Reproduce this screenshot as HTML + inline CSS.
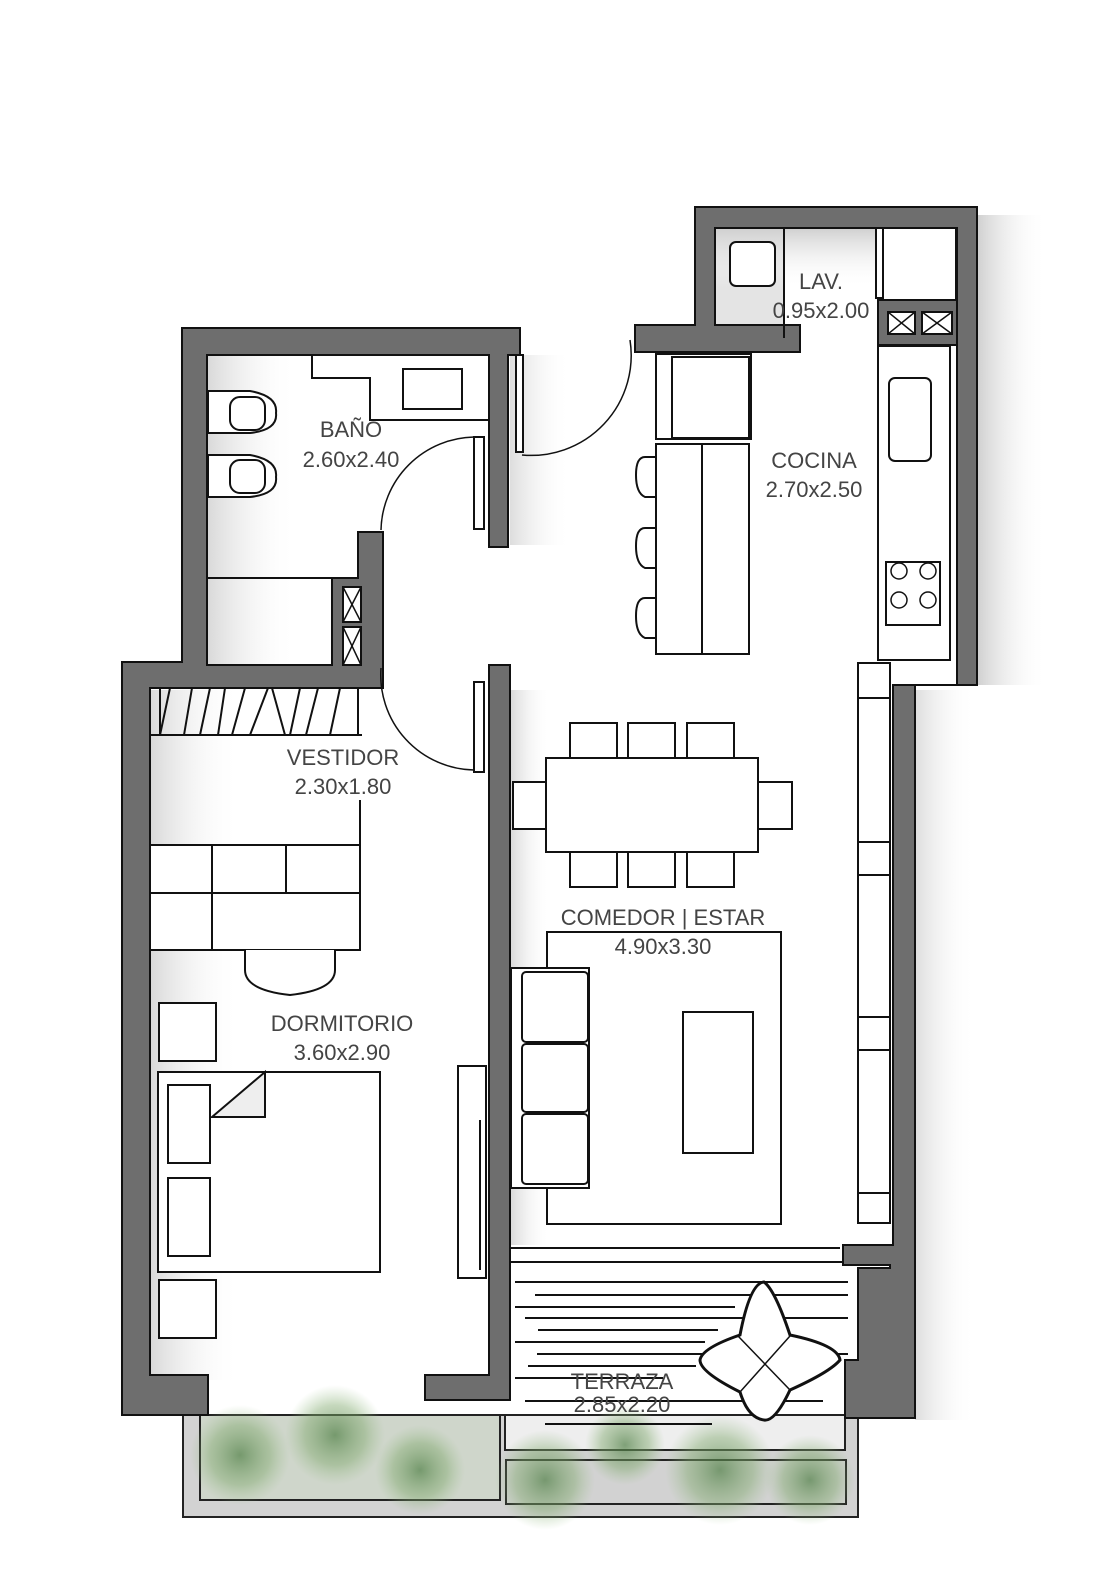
<!DOCTYPE html>
<html><head><meta charset="utf-8"><style>
html,body{margin:0;padding:0;background:#fff}
svg{display:block}
text{font-family:"Liberation Sans",sans-serif;fill:#444;font-size:22px;text-anchor:middle}
</style></head><body>
<svg width="1096" height="1578" viewBox="0 0 1096 1578" xmlns="http://www.w3.org/2000/svg">
<defs>
<linearGradient id="gl" x1="0" x2="1"><stop offset="0" stop-color="#d8d8d8"/><stop offset="1" stop-color="#fff" stop-opacity="0"/></linearGradient>
<linearGradient id="gt" x1="0" y1="0" x2="0" y2="1"><stop offset="0" stop-color="#cfcfcf"/><stop offset="1" stop-color="#fff" stop-opacity="0"/></linearGradient>
<linearGradient id="gs" x1="0" x2="1"><stop offset="0" stop-color="#bbb"/><stop offset="1" stop-color="#fff" stop-opacity="0"/></linearGradient>
<radialGradient id="pl"><stop offset="0" stop-color="#4f7f45" stop-opacity=".7"/><stop offset=".6" stop-color="#7fa86c" stop-opacity=".45"/><stop offset="1" stop-color="#9bc08a" stop-opacity="0"/></radialGradient>
</defs>
<rect x="977" y="215" width="70" height="470" fill="url(#gs)" opacity=".7"/>
<rect x="915" y="690" width="60" height="730" fill="url(#gs)" opacity=".5"/>
<rect x="510" y="355" width="60" height="190" fill="url(#gs)" opacity=".5"/>
<rect x="207" y="355" width="90" height="310" fill="url(#gl)"/>
<rect x="150" y="690" width="90" height="690" fill="url(#gl)"/>
<rect x="715" y="228" width="70" height="110" fill="#e4e4e4"/>
<rect x="715" y="228" width="242" height="60" fill="url(#gt)"/>
<rect x="510" y="690" width="40" height="555" fill="url(#gl)"/>
<!-- planters -->
<rect x="183" y="1415" width="675" height="102" fill="#d2d2d2" stroke="#222" stroke-width="2"/>
<rect x="200" y="1415" width="300" height="85" fill="#cfd6cb" stroke="#222" stroke-width="2"/>
<rect x="506" y="1460" width="340" height="44" fill="none" stroke="#222" stroke-width="2"/>
<rect x="505" y="1415" width="340" height="35" fill="#eee" stroke="#222" stroke-width="2"/>
<g fill="url(#pl)">
<circle cx="240" cy="1455" r="50"/><circle cx="335" cy="1435" r="50"/><circle cx="420" cy="1470" r="45"/><circle cx="545" cy="1480" r="50"/><circle cx="625" cy="1445" r="40"/><circle cx="720" cy="1470" r="55"/><circle cx="810" cy="1480" r="45"/>
</g>
<g stroke="#111" stroke-width="2">
<line x1="515" y1="1282" x2="848" y2="1282"/><line x1="535" y1="1295" x2="848" y2="1295"/><line x1="515" y1="1307" x2="735" y2="1307"/><line x1="525" y1="1318" x2="848" y2="1318"/><line x1="538" y1="1330" x2="718" y2="1330"/><line x1="515" y1="1342" x2="705" y2="1342"/><line x1="537" y1="1354" x2="848" y2="1354"/><line x1="528" y1="1366" x2="696" y2="1366"/><line x1="515" y1="1378" x2="663" y2="1378"/><line x1="525" y1="1401" x2="823" y2="1401"/><line x1="545" y1="1424" x2="712" y2="1424"/>
<line x1="510" y1="1262" x2="850" y2="1262"/><line x1="510" y1="1248" x2="840" y2="1248"/>
</g>
<g fill="#6e6e6e" stroke="#111" stroke-width="2">
<path d="M182 328 H520 V355 H508 V547 H489 V355 H207 V665 H332 V578 H358 V532 H383 V688 H150 V1375 H208 V1415 H122 V662 H182 Z"/>
<path d="M489 665 H510 V1400 H425 V1375 H489 Z"/>
<path d="M695 207 H977 V685 H915 V1418 H845 V1360 H858 V1268 H890 V1265 H843 V1245 H893 V685 H957 V228 H715 V325 H800 V352 H635 V325 H695 Z"/>
<rect x="878" y="300" width="79" height="45"/>
</g>
<g fill="#fff" stroke="#111" stroke-width="2">
<path d="M312 355 H489 V420 H370 V378 H312 Z"/>
<rect x="403" y="369" width="59" height="40"/>
<path d="M208 391 H250 Q278 396 276 413 Q278 430 250 433 H208 Z"/>
<rect x="230" y="397" width="35" height="33" rx="10"/>
<path d="M208 455 H250 Q278 460 276 477 Q278 494 250 497 H208 Z"/>
<rect x="230" y="460" width="35" height="33" rx="10"/>
<line x1="207" y1="578" x2="332" y2="578"/>
<rect x="343" y="587" width="18" height="35"/><rect x="343" y="627" width="18" height="38"/>
<rect x="474" y="437" width="10" height="92"/>
<rect x="516" y="355" width="7" height="97"/>
<rect x="474" y="682" width="10" height="90"/>
</g>
<g stroke="#111" stroke-width="1.5" fill="none">
<path d="M474 437 A95 95 0 0 0 381 530"/>
<path d="M522 455 A100 100 0 0 0 630 340"/>
<path d="M381 668 A95 95 0 0 0 474 770"/>
<line x1="343" y1="587" x2="361" y2="622"/><line x1="361" y1="587" x2="343" y2="622"/>
<line x1="343" y1="627" x2="361" y2="665"/><line x1="361" y1="627" x2="343" y2="665"/>
</g>
<g stroke="#111" stroke-width="2" fill="none">
<line x1="150" y1="688" x2="362" y2="688"/><line x1="150" y1="735" x2="362" y2="735"/>
<line x1="160" y1="688" x2="160" y2="735"/><line x1="160" y1="735" x2="170" y2="688"/><line x1="192" y1="688" x2="184" y2="735"/><line x1="210" y1="688" x2="200" y2="735"/><line x1="225" y1="688" x2="218" y2="735"/><line x1="245" y1="688" x2="232" y2="735"/><line x1="268" y1="688" x2="250" y2="735"/><line x1="272" y1="688" x2="285" y2="735"/><line x1="300" y1="688" x2="290" y2="735"/><line x1="318" y1="688" x2="306" y2="735"/><line x1="340" y1="688" x2="330" y2="735"/><line x1="358" y1="688" x2="358" y2="735"/>
<line x1="360" y1="800" x2="360" y2="950"/>
</g>
<g fill="#fff" stroke="#111" stroke-width="2">
<rect x="150" y="845" width="210" height="105"/>
<line x1="150" y1="893" x2="360" y2="893"/><line x1="212" y1="845" x2="212" y2="950"/><line x1="286" y1="845" x2="286" y2="893"/>
<path d="M245 950 V970 Q245 990 290 995 Q335 990 335 970 V950"/>
<rect x="159" y="1003" width="57" height="58"/>
<rect x="159" y="1280" width="57" height="58"/>
<rect x="158" y="1072" width="222" height="200"/>
<rect x="168" y="1085" width="42" height="78"/><rect x="168" y="1178" width="42" height="78"/>
<path d="M212 1117 L265 1072 V1117 Z" fill="#eee"/>
<rect x="458" y="1066" width="28" height="212"/>
<line x1="480" y1="1120" x2="480" y2="1270"/>
</g>
<g fill="#fff" stroke="#111" stroke-width="2">
<line x1="784" y1="228" x2="784" y2="338"/>
<rect x="730" y="242" width="45" height="44" rx="6"/>
<rect x="883" y="228" width="73" height="72"/><rect x="876" y="228" width="7" height="70"/>
<rect x="888" y="312" width="27" height="22"/><rect x="922" y="312" width="30" height="22"/>
<rect x="878" y="346" width="72" height="314"/>
<rect x="889" y="378" width="42" height="83" rx="6"/>
<rect x="886" y="562" width="54" height="63"/>
<rect x="656" y="354" width="95" height="85"/>
<rect x="672" y="357" width="77" height="81"/>
<rect x="656" y="444" width="93" height="210"/>
<line x1="702" y1="444" x2="702" y2="654"/>
<path d="M655 457 H645 Q636 457 636 475 Q636 493 645 497 H655"/>
<path d="M655 528 H645 Q636 528 636 546 Q636 564 645 568 H655"/>
<path d="M655 598 H645 Q636 598 636 616 Q636 634 645 638 H655"/>
</g>
<g stroke="#111" stroke-width="1.5" fill="none">
<line x1="888" y1="312" x2="915" y2="334"/><line x1="915" y1="312" x2="888" y2="334"/>
<line x1="922" y1="312" x2="952" y2="334"/><line x1="952" y1="312" x2="922" y2="334"/>
<circle cx="899" cy="571" r="8"/><circle cx="928" cy="571" r="8"/><circle cx="899" cy="600" r="8"/><circle cx="928" cy="600" r="8"/>
</g>
<g fill="#fff" stroke="#111" stroke-width="2">
<rect x="858" y="663" width="32" height="560"/>
<line x1="858" y1="698" x2="890" y2="698"/><line x1="858" y1="842" x2="890" y2="842"/><line x1="858" y1="875" x2="890" y2="875"/><line x1="858" y1="1017" x2="890" y2="1017"/><line x1="858" y1="1050" x2="890" y2="1050"/><line x1="858" y1="1193" x2="890" y2="1193"/>
<rect x="570" y="723" width="47" height="35"/><rect x="628" y="723" width="47" height="35"/><rect x="687" y="723" width="47" height="35"/>
<rect x="570" y="852" width="47" height="35"/><rect x="628" y="852" width="47" height="35"/><rect x="687" y="852" width="47" height="35"/>
<rect x="513" y="782" width="35" height="47"/><rect x="757" y="782" width="35" height="47"/>
<rect x="546" y="758" width="212" height="94"/>
<rect x="547" y="932" width="234" height="292"/>
<rect x="511" y="968" width="78" height="220"/>
<rect x="522" y="972" width="66" height="70" rx="4"/><rect x="522" y="1044" width="66" height="68" rx="4"/><rect x="522" y="1114" width="66" height="70" rx="4"/>
<rect x="683" y="1012" width="70" height="141"/>
<path d="M764 1282 Q775 1290 790 1335 Q838 1345 840 1360 Q830 1372 790 1390 Q775 1422 764 1420 Q748 1418 740 1392 Q700 1372 700 1360 Q702 1348 740 1335 Q750 1283 764 1282 Z" stroke-width="3"/>
<line x1="738" y1="1336" x2="790" y2="1390" stroke-width="1.5"/><line x1="790" y1="1336" x2="740" y2="1392" stroke-width="1.5"/>
</g>
<text x="351" y="437">BAÑO</text><text x="351" y="467">2.60x2.40</text>
<text x="821" y="289">LAV.</text><text x="821" y="318">0.95x2.00</text>
<text x="814" y="468">COCINA</text><text x="814" y="497">2.70x2.50</text>
<text x="343" y="765">VESTIDOR</text><text x="343" y="794">2.30x1.80</text>
<text x="663" y="925">COMEDOR | ESTAR</text><text x="663" y="954">4.90x3.30</text>
<text x="342" y="1031">DORMITORIO</text><text x="342" y="1060">3.60x2.90</text>
<text x="622" y="1389">TERRAZA</text><text x="622" y="1412">2.85x2.20</text>
</svg>
</body></html>
